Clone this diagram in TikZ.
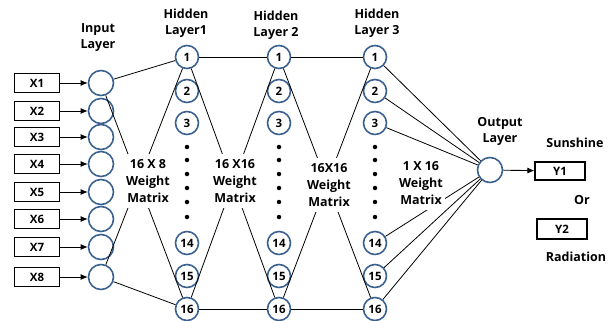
\documentclass[tikz,border=0pt]{standalone}
\usepackage{fontspec}
\setmainfont{Open Sans}
\usetikzlibrary{arrows.meta}
\definecolor{nodeblue}{HTML}{3A6190}
\begin{document}
\begin{tikzpicture}[x=1pt,y=-1pt,
  neuron/.style={circle,draw=nodeblue,line width=1.6pt,minimum size=25pt,inner sep=0pt,fill=white,
                 font=\bfseries\fontsize{11.5}{12}\selectfont},
  smallneuron/.style={neuron,minimum size=23pt},
  databox/.style={draw=black,line width=1.2pt,minimum width=45pt,minimum height=19pt,inner sep=0pt,
                 font=\bfseries\fontsize{11.5}{12}\selectfont},
  head/.style={align=center,font=\bfseries\fontsize{12.5}{16}\selectfont},
  wlabel/.style={align=center,fill=white,inner xsep=2pt,inner ysep=5pt,font=\bfseries\fontsize{12.5}{17}\selectfont},
  link/.style={line width=0.8pt,black},
  feed/.style={line width=0.9pt,-{Latex[length=7pt,width=6pt]}},
  dot/.style={circle,fill=black,inner sep=0pt,minimum size=4.5pt}]
\useasboundingbox (0,0) rectangle (616,321);

% input boxes and input neurons
\foreach \i/\y in {1/83,2/111,3/137,4/164,5/192,6/219,7/247,8/277}{
  \node[databox] (x\i) at (37,\y) {X\i};
  \node[neuron] (in\i) at (101,\y) {};
  \draw[feed] (x\i) -- (in\i);
}

% hidden layers
\foreach \L/\x in {1/187,2/279,3/375}{
  \foreach \k/\y in {1/57,2/91,3/123,14/243,15/276,16/309}{
    \node[smallneuron] (h\L n\k) at (\x,\y) {\k};
  }
  \foreach \y in {147,160,174,188,202,217}{
    \node[dot] (h\L d\y) at (\x,\y) {};
  }
}

% output neuron and targets
\node[neuron] (out) at (490,170) {};
\node[databox,minimum width=50pt,minimum height=18pt] (y1) at (560,171) {Y1};
\node[databox,minimum width=50pt,minimum height=20pt] (y2) at (562,229) {Y2};
\draw[feed] (out) -- (y1);

% headings
\node[head] (hin) at (98,38) {Input\\Layer};
\node[head] (hh1) at (186,23) {Hidden\\Layer1};
\node[head] (hh2) at (276,25) {Hidden\\Layer 2};
\node[head] (hh3) at (377,23) {Hidden\\Layer 3};
\node[head] (hout) at (500,131) {Output\\Layer};
\node[head] (sun) at (575,143) {Sunshine};
\node[head] (or) at (582,200) {Or};
\node[head] (rad) at (576,257) {Radiation};

% connections between layers
\draw[link] (in1) -- (h1n1);
\draw[link] (in1) -- (h1n16);
\draw[link] (in8) -- (h1n1);
\draw[link] (in8) -- (h1n16);
\foreach \a/\b in {1/2,2/3}{
  \draw[link] (h\a n1) -- (h\b n1);
  \draw[link] (h\a n1) -- (h\b n16);
  \draw[link] (h\a n16) -- (h\b n1);
  \draw[link] (h\a n16) -- (h\b n16);
}
\foreach \k in {1,2,3,14,15,16}{
  \draw[link] (h3n\k) -- (out);
}

% weight matrix labels
\node[wlabel] (w1) at (148,181) {16 X 8\\Weight\\Matrix};
\node[wlabel] (w2) at (235,181) {16 X16\\Weight\\Matrix};
\node[wlabel] (w3) at (329,185) {16X16\\Weight\\Matrix};
\node[wlabel] (w4) at (421,183) {1 X 16\\Weight\\Matrix};
\end{tikzpicture}
\end{document}
